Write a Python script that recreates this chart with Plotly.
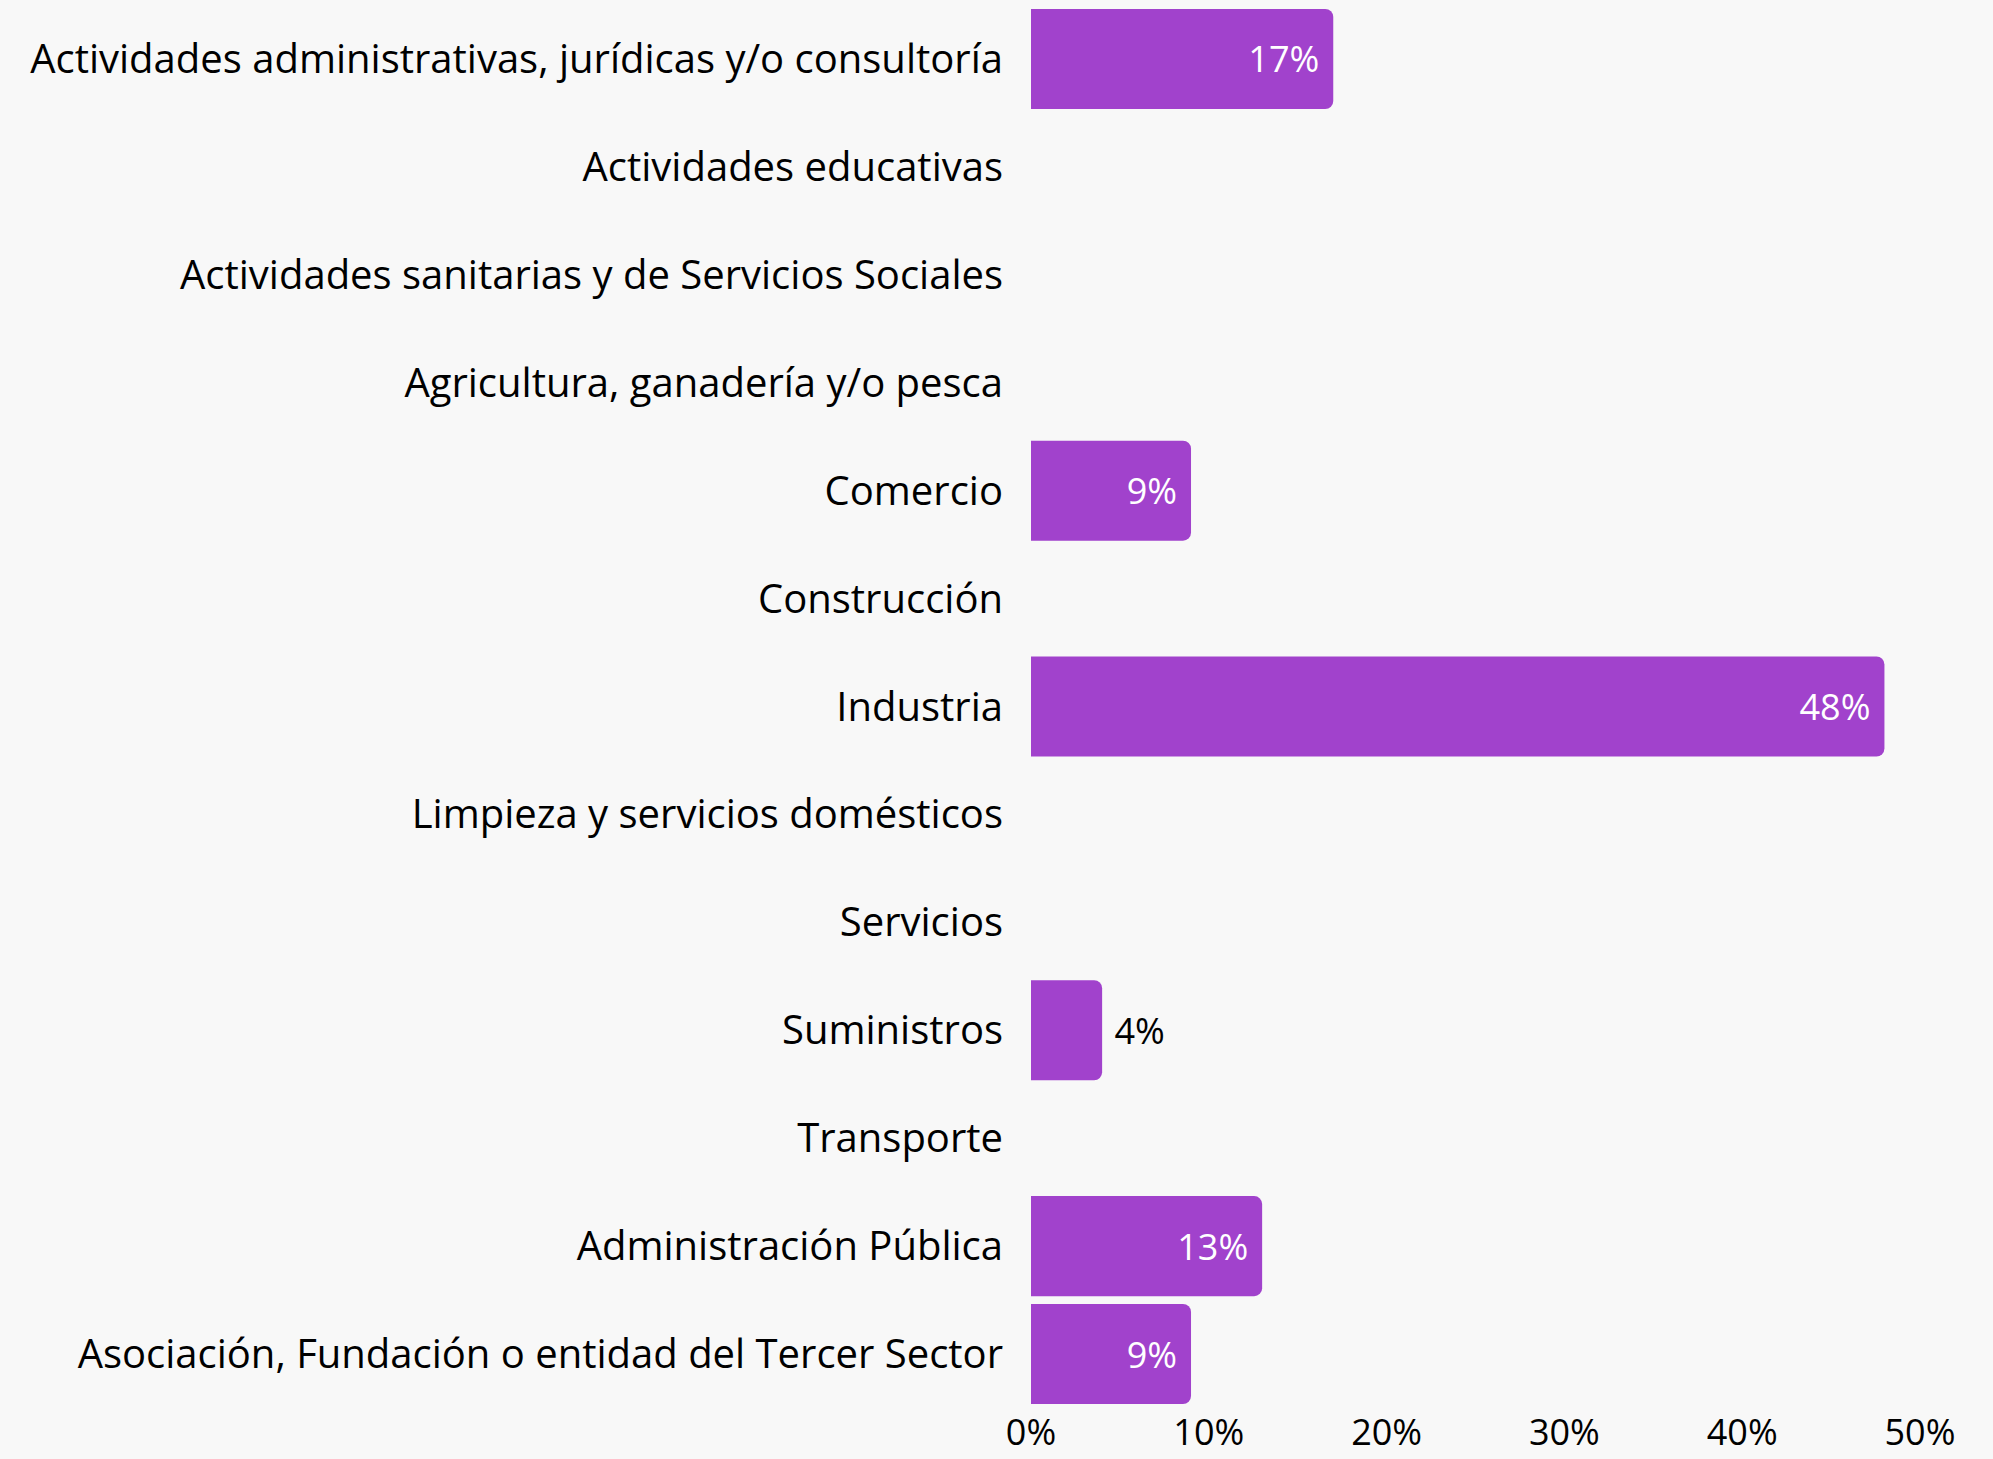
import plotly.graph_objects as go

categories = [
    'Actividades administrativas, jurídicas y/o consultoría',
    'Actividades educativas',
    'Actividades sanitarias y de Servicios Sociales',
    'Agricultura, ganadería y/o pesca',
    'Comercio',
    'Construcción',
    'Industria',
    'Limpieza y servicios domésticos',
    'Servicios',
    'Suministros',
    'Transporte',
    'Administración Pública',
    'Asociación, Fundación o entidad del Tercer Sector',
]
values = [0.17, 0, 0, 0, 0.09, 0, 0.48, 0, 0, 0.04, 0, 0.13, 0.09]
tick_vals = [0, 0.1, 0.2, 0.3, 0.4, 0.5]
tick_text = ['0%', '10%', '20%', '30%', '40%', '50%']

# small bars get their label outside
positions = ['outside' if 0 < v < 0.06 else 'inside' for v in values]
labels = []
for v, p in zip(values, positions):
    if v <= 0:
        labels.append('')
    elif p == 'outside':
        labels.append('\u00a0' + f'{round(v * 100)}%')
    else:
        labels.append(f'{round(v * 100)}%' + '\u2009')

FONT = 'Open Sans'
BG = '#f8f8f8'

fig = go.Figure(
    go.Bar(
        x=values,
        y=categories,
        orientation='h',
        text=labels,
        textposition=positions,
        insidetextanchor='end',
        insidetextfont=dict(color='white', size=36, family=FONT),
        outsidetextfont=dict(color='black', size=36, family=FONT),
        marker=dict(color='#a142cc', cornerradius=8, line=dict(width=0)),
        width=0.927,
        cliponaxis=False,
        hoverinfo='skip',
    )
)

fig.update_layout(
    width=1993,
    height=1459,
    margin={'l': 1031, 'r': 73, 't': 5, 'b': 51},
    plot_bgcolor=BG,
    paper_bgcolor=BG,
    font=dict(family=FONT, size=40, color='black'),
    showlegend=False,
    xaxis=dict(
        range=[0, 0.5],
        tickvals=tick_vals,
        ticktext=tick_text,
        showgrid=False,
        zeroline=False,
        showline=False,
        ticks='',
        ticklabelstandoff=0,
        tickfont=dict(size=36),
        automargin=False,
    ),
    yaxis=dict(
        categoryorder='array',
        categoryarray=categories[::-1],
        showgrid=False,
        zeroline=False,
        showline=False,
        ticks='',
        ticklabelstandoff=27,
        tickfont=dict(size=40),
        automargin=False,
    ),
)

fig.write_html(
    'out.html',
    config={'displayModeBar': False},
    post_script="document.body.style.margin='0';document.body.style.background='%s';" % BG,
)
